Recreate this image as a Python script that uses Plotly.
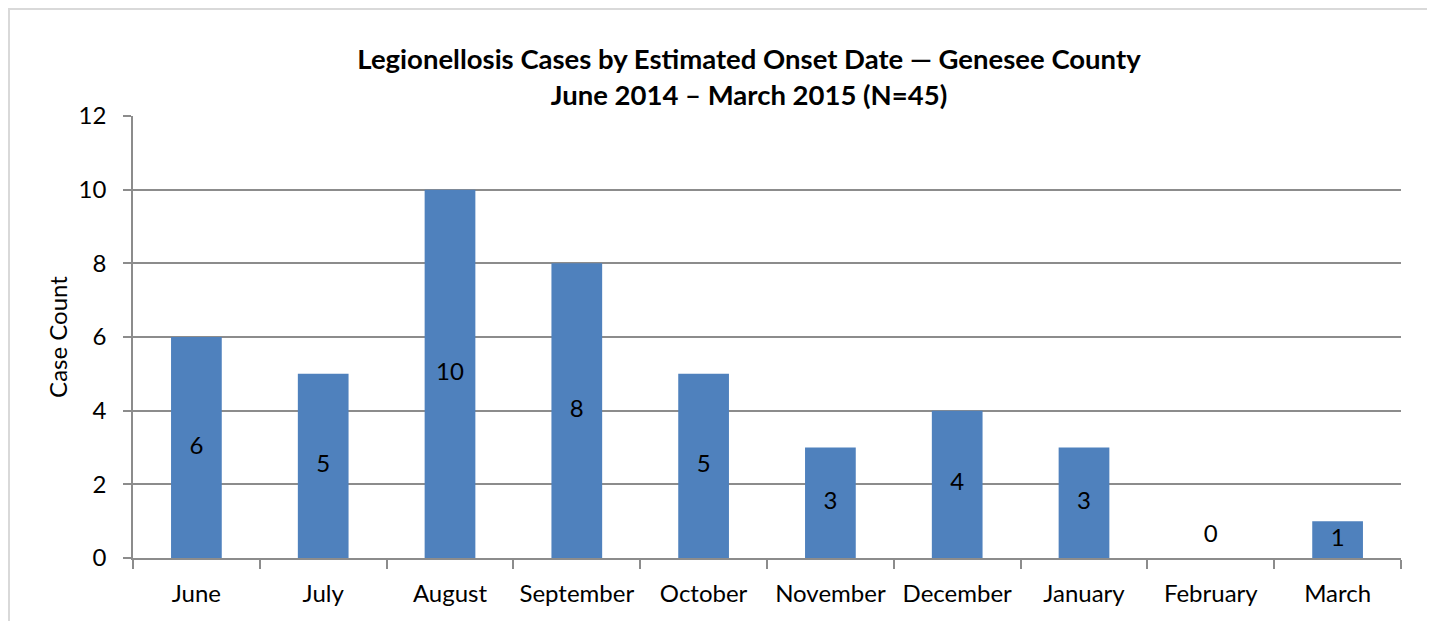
import plotly.graph_objects as go

months = ["June", "July", "August", "September", "October", "November",
          "December", "January", "February", "March"]
cases = [6, 5, 10, 8, 5, 3, 4, 3, 0, 1]
y_ticks = [0, 2, 4, 6, 8, 10, 12]

FONT = "Lato, Carlito, Calibri, sans-serif"
BLUE = "#4F81BD"
GRID = "#8C8C8C"

W, H = 1435, 621
L, R, T, B = 125, 42, 108, 71
pw, ph = W - L - R, H - T - B

label_y = [v / 2 if v > 0 else 0.6 for v in cases]

fig = go.Figure()
fig.add_trace(go.Bar(x=months, y=cases, marker=dict(color=BLUE, line=dict(width=0)),
                     hoverinfo="x+y"))
fig.add_trace(go.Scatter(x=months, y=label_y, mode="text", text=[str(v) for v in cases],
                         textfont=dict(family=FONT, size=24, color="black"),
                         hoverinfo="skip"))

# outer frame
fig.add_shape(type="rect", xref="paper", yref="paper",
              x0=(1 - L) / pw, x1=(1423 - L) / pw,
              y0=-0.3, y1=(H - B - 1) / ph,
              line=dict(color="#D9D9D9", width=2), layer="below")

fig.update_layout(
    width=W, height=H,
    margin=dict(l=L, r=R, t=T, b=B),
    paper_bgcolor="white", plot_bgcolor="white",
    showlegend=False, bargap=0.6,
    font=dict(family=FONT, size=24, color="black"),
    title=dict(text="<b>Legionellosis Cases by Estimated Onset Date — Genesee County<br>June 2014 – March 2015 (N=45)</b>",
               x=741 / W, xanchor="center", xref="container",
               y=1 - 61 / H, yanchor="middle", yref="container",
               font=dict(family=FONT, size=27.5, color="black")),
    xaxis=dict(type="category", tickson="boundaries", ticks="outside", ticklen=9,
               tickcolor=GRID, tickwidth=1.5, showline=True, linecolor=GRID, linewidth=1.5,
               showgrid=False, tickfont=dict(size=24), ticklabelstandoff=13),
    yaxis=dict(range=[0, 12], tickvals=y_ticks, ticks="outside", ticklen=8,
               tickcolor=GRID, tickwidth=1.5, showline=True, linecolor=GRID, linewidth=1.5,
               showgrid=True, gridcolor=GRID, gridwidth=1.5, zeroline=False,
               tickfont=dict(size=24), ticklabelstandoff=12,
               title=dict(text="Case Count", font=dict(size=24), standoff=4)),
)

fig.write_html("out.html")
